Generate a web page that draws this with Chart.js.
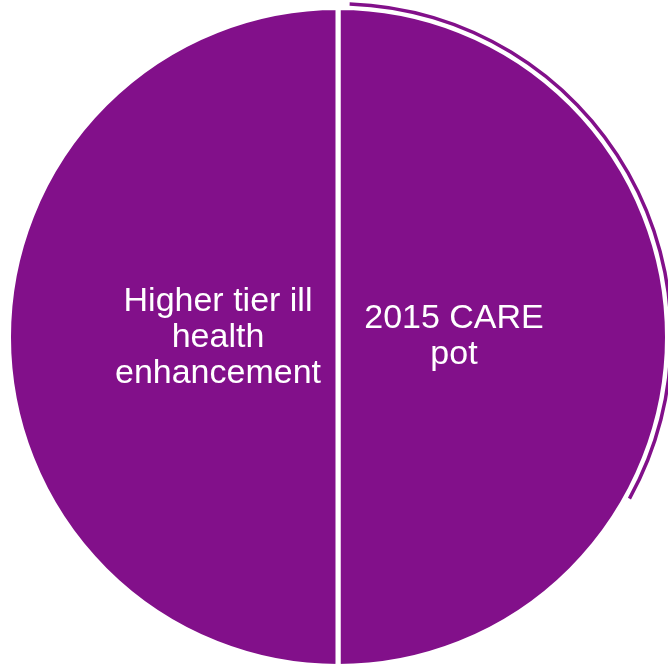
<!DOCTYPE html>
<html>
<head>
<meta charset="utf-8">
<script src="https://cdn.jsdelivr.net/npm/chart.js@4.4.0/dist/chart.umd.min.js"></script>
<style>
    html, body { margin: 0; padding: 0; background: #fff; overflow: hidden; }
    #wrap { position: relative; width: 676px; height: 674px; }
</style>
</head>
<body>
<div id="wrap"><canvas id="pieChart"></canvas></div>
<script>
// Chart data
const labels = ['2015 CARE pot', 'Higher tier ill health enhancement'];
const labelLines = [['2015 CARE', 'pot'], ['Higher tier ill', 'health', 'enhancement']];
const values = [50, 50];
// thin outer arc seen on the right side of the original
const ringValues = [2, 117, 241];

const purple = '#82108a';

// Draw the category names inside the slices
const sliceLabels = {
    id: 'sliceLabels',
    afterDatasetsDraw(chart) {
        const meta = chart.getDatasetMeta(2);
        const c = chart.ctx;
        c.save();
        c.fillStyle = '#ffffff';
        c.font = '34px "Liberation Sans", Arial, sans-serif';
        c.textAlign = 'center';
        c.textBaseline = 'middle';
        const offsets = [[116, 0], [-120, 1]];
        meta.data.forEach(function(arc, i) {
            const lines = labelLines[i];
            const cx = arc.x + offsets[i][0];
            const cy = arc.y + offsets[i][1];
            const lh = 36;
            const top = cy - (lines.length - 1) * lh / 2;
            lines.forEach(function(line, j) {
                c.fillText(line, cx, top + j * lh);
            });
        });
        c.restore();
    }
};

const ctx = document.getElementById('pieChart').getContext('2d');
const pieChart = new Chart(ctx, {
    type: 'doughnut',
    data: {
        labels: labels,
        datasets: [{
            data: ringValues,
            backgroundColor: ['rgba(0,0,0,0)', purple, 'rgba(0,0,0,0)'],
            borderWidth: 0,
            weight: 3.5
        }, {
            data: [1],
            backgroundColor: ['rgba(0,0,0,0)'],
            borderWidth: 0,
            weight: 2
        }, {
            data: values,
            backgroundColor: [purple, purple],
            borderColor: '#ffffff',
            borderWidth: 5,
            weight: 330
        }]
    },
    options: {
        responsive: true,
        maintainAspectRatio: false,
        animation: false,
        cutout: 0,
        radius: 335,
        layout: { padding: 0 },
        plugins: {
            legend: { display: false },
            tooltip: { enabled: false }
        }
    },
    plugins: [sliceLabels]
});
</script>
</body>
</html>
